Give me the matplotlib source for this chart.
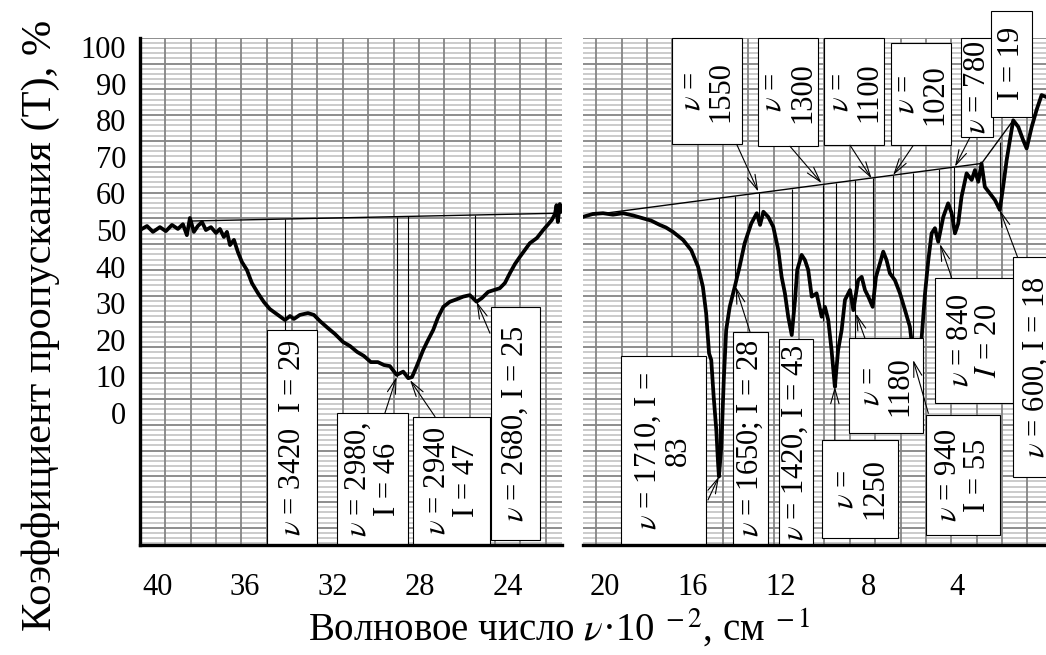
import matplotlib
matplotlib.use("Agg")
import matplotlib.pyplot as plt
from matplotlib.collections import LineCollection
from matplotlib.patches import Rectangle

plt.rcParams["font.family"] = ["Liberation Serif", "DejaVu Serif"]
plt.rcParams["mathtext.fontset"] = "stix"

# IR spectrum, wavenumber * 1e-2 (cm-1) vs transmittance, %
left_x = [40.80, 40.48, 40.21, 39.89, 39.62, 39.34, 39.07, 38.84, 38.66, 38.52,
          38.34, 38.16, 37.97, 37.79, 37.56, 37.33, 37.15, 36.97, 36.83, 36.69,
          36.51, 36.33, 36.15, 35.92, 35.69, 35.42, 35.14, 34.87, 34.55, 34.18,
          33.95, 33.77, 33.50, 33.13, 32.86, 32.58, 32.22, 31.90, 31.53, 31.21,
          30.89, 30.58, 30.26, 29.94, 29.66, 29.39, 29.08, 28.78, 28.55, 28.38,
          28.17, 27.87, 27.65, 27.41, 27.20, 26.95, 26.65, 26.33, 26.04, 25.74,
          25.43, 25.19, 24.90, 24.37, 24.14, 23.91, 23.68, 23.45, 23.00, 22.68,
          22.39, 22.00, 21.85, 21.78, 21.72, 21.63, 21.58]
left_t = [50.0, 51.1, 49.5, 50.8, 49.7, 51.4, 50.3, 51.6, 48.6, 53.3,
          49.5, 51.1, 52.2, 50.0, 50.8, 49.2, 50.3, 48.1, 49.5, 45.9,
          47.3, 44.0, 41.3, 39.1, 35.5, 32.8, 30.3, 28.4, 27.0, 25.4,
          26.5, 25.7, 26.8, 27.3, 26.8, 25.1, 23.2, 21.6, 19.4, 18.3,
          16.7, 15.6, 13.9, 13.9, 13.1, 12.8, 10.4, 11.3, 9.5, 9.8,
          12.7, 17.2, 19.9, 22.7, 26.0, 29.0, 30.4, 31.1, 31.8, 32.2,
          30.4, 31.4, 33.1, 34.1, 35.5, 38.2, 40.7, 42.7, 46.4, 47.8,
          50.0, 52.7, 54.4, 56.8, 52.2, 57.1, 55.0]

right_x = [21.00, 20.55, 20.09, 19.64, 19.18, 18.73, 18.27, 17.91, 17.51, 17.23,
           16.91, 16.45, 16.08, 15.77, 15.55, 15.40, 15.27, 15.17, 15.06, 14.94,
           14.86, 14.82, 14.71, 14.60, 14.49, 14.33, 14.10, 13.88, 13.65, 13.35,
           13.10, 12.95, 12.80, 12.58, 12.35, 12.12, 11.97, 11.82, 11.67, 11.51,
           11.36, 11.26, 11.06, 10.91, 10.76, 10.60, 10.38, 10.15, 10.00, 9.85,
           9.70, 9.55, 9.40, 9.24, 9.09, 8.86, 8.71, 8.49, 8.33, 8.18,
           8.03, 7.83, 7.68, 7.50, 7.35, 7.20, 7.05, 6.82, 6.59, 6.36,
           6.14, 6.05, 5.91, 5.73, 5.60, 5.45, 5.30, 5.15, 5.00, 4.85,
           4.62, 4.40, 4.24, 4.09, 3.94, 3.79, 3.56, 3.33, 3.18, 3.03,
           2.88, 2.73, 2.50, 2.27, 2.05, 1.90, 1.74, 1.59, 1.44, 1.21,
           0.99, 0.83, 0.60, 0.38, 0.15, -0.05]
right_t = [53.6, 54.4, 54.6, 54.2, 54.6, 54.0, 53.2, 52.6, 51.4, 50.7,
           49.5, 47.3, 44.5, 40.0, 34.5, 27.2, 16.3, 14.5, 4.5, -4.6,
           -13.7, -17.4, -9.2, 9.0, 22.7, 29.0, 34.5, 40.0, 46.4, 51.8,
           54.6, 51.4, 55.0, 53.6, 50.9, 44.5, 37.2, 32.7, 26.3, 21.3,
           30.9, 39.1, 43.2, 41.8, 39.1, 31.8, 32.7, 26.3, 29.0, 25.4,
           17.2, 7.2, 17.2, 22.7, 30.9, 33.6, 28.1, 36.3, 37.2, 33.6,
           31.8, 29.0, 37.2, 40.9, 44.1, 41.8, 38.2, 36.3, 32.7, 28.1,
           23.6, 19.0, 11.7, 14.5, 20.8, 32.7, 41.8, 49.1, 50.5, 46.8,
           53.6, 57.3, 54.6, 49.1, 51.8, 59.1, 65.5, 63.7, 66.4, 63.2,
           68.2, 61.8, 60.0, 58.2, 55.5, 61.8, 69.1, 74.6, 80.0, 78.2,
           74.6, 72.3, 78.2, 82.8, 86.9, 86.4]

# baselines and drop lines to the bands
left_base_x = [38.52, 21.70]
left_base_t = [52.46, 54.60]
right_base_x = [21.00, 2.88, 1.44]
right_base_t = [53.80, 68.20, 80.00]

left_drop_x = [34.18, 29.08, 28.55, 25.50]
left_drop_top = [53.00, 53.67, 53.73, 54.12]
left_drop_bot = [22.7, 9.9, 9.5, 30.4]

right_drop_x = [14.80, 14.10, 12.98, 11.51, 10.11, 9.52, 8.64, 7.82, 6.91, 6.00, 4.82, 4.12, 2.05]
right_drop_top = [58.73, 59.28, 60.17, 61.34, 62.45, 62.92, 63.62, 64.27, 64.99, 65.72, 66.66, 67.21, 74.0]
right_drop_bot = [-17.4, 34.5, 51.8, 21.3, 25.0, 7.2, 20.4, 29.0, 36.3, 20.4, 46.8, 49.1, 55.5]

# band labels: text, x from, x to, T from, T to
left_labels = [
    (r"$\nu$ = 3420  I = 29", 35.02, 32.74, -36.1, 22.7),
    (r"$\nu$ = 2980," "\nI = 46", 31.82, 28.55, -36.1, 0.0),
    (r"$\nu$ = 2940" "\nI = 47", 28.32, 24.82, -36.1, -1.0),
    (r"$\nu$ = 2680, I = 25", 24.78, 22.54, -34.7, 28.9),
]
right_labels = [
    (r"$\nu$ =" "\n1550", 16.97, 13.79, 73.4, 102.5),
    (r"$\nu$ =" "\n1300", 13.06, 10.30, 72.9, 102.5),
    (r"$\nu$ =" "\n1100", 10.05, 7.30, 73.2, 102.4),
    (r"$\nu$ =" "\n1020", 7.01, 4.27, 73.2, 101.0),
    (r"$\nu$ = 780", 3.83, 2.35, 75.3, 102.5),
    (r"I = 19", 2.47, 0.58, 81.0, 109.9),
    (r"$\nu$ = 1710, I =" "\n83", 19.29, 15.41, -36.1, 15.6),
    (r"$\nu$ = 1650; I = 28", 14.17, 12.58, -36.1, 22.2),
    (r"$\nu$ = 1420, I = 43", 12.09, 10.56, -36.1, 20.1),
    (r"$\nu$ =" "\n1250", 10.15, 6.67, -34.2, -7.4),
    (r"$\nu$ =" "\n1180", 8.91, 5.56, -5.5, 20.4),
    (r"$\nu$ = 940" "\nI = 55", 5.42, 2.05, -33.5, -0.5),
    (r"$\nu$ = 840" "\n$I$ = 20", 5.00, 1.44, 2.6, 37.0),
    (r"$\nu$ = 600, I = 18", 1.44, -0.68, -17.4, 42.7),
]

# arrows: tail x, tail T, tip x, tip T
left_arrows = [(29.62, -0.1, 29.08, 9.9), (27.33, -1.0, 28.47, 9.0), (24.82, 21.8, 25.43, 30.4)]
right_arrows = [(14.01, 73.4, 13.03, 60.5), (11.59, 72.9, 10.15, 62.8), (8.86, 73.2, 7.88, 64.1),
                (5.99, 73.1, 6.90, 65.0), (3.41, 75.3, 4.09, 67.3), (15.32, -23.8, 14.82, -17.4),
                (13.41, 22.2, 14.06, 34.5), (9.55, -7.4, 9.55, 7.2), (8.18, 20.4, 8.59, 27.2),
                (5.30, -0.1, 5.99, 14.5), (4.24, 37.0, 4.77, 46.2), (1.25, 42.7, 2.05, 55.5)]

left_ticks = [40, 36, 32, 28, 24]
right_ticks = [20, 16, 12, 8, 4]
t_ticks = list(range(0, 101, 10))

W, H = 1046, 655
TOP, BOT = 38, 545
fig = plt.figure(figsize=(W / 100, H / 100), dpi=100)
axL = fig.add_axes([140 / W, 1 - BOT / H, (562 - 140) / W, (BOT - TOP) / H])
axR = fig.add_axes([583 / W, 1 - BOT / H, (1046 - 583) / W, (BOT - TOP) / H])


def paper_grid(ax, lpx, rpx):
    # graph paper behind the plot, continuous over both panels
    major, minor = [], []
    w, h = rpx - lpx, BOT - TOP
    for k in range(45):
        px = 140 + k * 25.35
        if lpx <= px <= rpx:
            fx = (px - lpx) / w
            major.append([(fx, 0), (fx, 1)])
    for k in range(120):
        py = 37.7 + k * 25.8 / 5
        if py > BOT:
            break
        fy = (BOT - py) / h
        (major if k % 5 == 0 else minor).append([(0, fy), (1, fy)])
    ax.add_collection(LineCollection(minor, colors="#bdbdbd", linewidths=1.1,
                                     transform=ax.transAxes, zorder=0), autolim=False)
    ax.add_collection(LineCollection(major, colors="#858585", linewidths=1.3,
                                     transform=ax.transAxes, zorder=0.5), autolim=False)


def draw_panel(ax, x, t, bx, bt, dx, dtop, dbot, labels, arrows):
    ax.plot(x, t, color="black", lw=2.7, zorder=3, solid_joinstyle="round")
    ax.plot(bx, bt, color="black", lw=1.0, zorder=2)
    ax.vlines(dx, dbot, dtop, colors="black", lw=0.8, zorder=2)
    for txt, x0, x1, y0, y1 in labels:
        ax.add_patch(Rectangle((min(x0, x1), y0), abs(x1 - x0), y1 - y0, facecolor="white",
                               edgecolor="black", lw=0.8, zorder=5, clip_on=False))
        ax.text((x0 + x1) / 2, (y0 + y1) / 2, txt, rotation=90, ha="center", va="center",
                multialignment="center", fontsize=22, linespacing=1.0, zorder=6, clip_on=False)
    for x0, y0, x1, y1 in arrows:
        ax.annotate("", xy=(x1, y1), xytext=(x0, y0), annotation_clip=False, zorder=7,
                    arrowprops=dict(arrowstyle="->,head_length=0.9,head_width=0.25",
                                    lw=0.8, color="black", shrinkA=0, shrinkB=0,
                                    mutation_scale=12))


paper_grid(axL, 140, 562)
paper_grid(axR, 583, 1046)
draw_panel(axL, left_x, left_t, left_base_x, left_base_t,
           left_drop_x, left_drop_top, left_drop_bot, left_labels, left_arrows)
draw_panel(axR, right_x, right_t, right_base_x, right_base_t,
           right_drop_x, right_drop_top, right_drop_bot, right_labels, right_arrows)

for ax, lim, ticks in [(axL, (40.80, 21.53), left_ticks), (axR, (21.0, -0.05), right_ticks)]:
    ax.set_xlim(*lim)
    ax.set_ylim(-36.1, 102.5)
    ax.set_xticks(ticks)
    ax.tick_params(axis="x", length=0, labelsize=22, pad=20)
    for s in ["top", "right"]:
        ax.spines[s].set_visible(False)
    ax.spines["bottom"].set_linewidth(2.4)
    ax.spines["bottom"].set_zorder(8)

axL.set_yticks(t_ticks)
axL.tick_params(axis="y", length=0, labelsize=22, pad=10)
axL.spines["left"].set_linewidth(2.4)
axL.spines["left"].set_zorder(8)
axR.spines["left"].set_visible(False)
axR.set_yticks([])

fig.text(0.535, 0.040, "Волновое число $\\nu$·10$^{\\ -2}$, см$^{\\ -1}$",
         ha="center", va="center", fontsize=28)
fig.text(0.039, 0.503, "Коэффициент пропускания (T), %", rotation=90,
         ha="center", va="center", fontsize=30.5)

fig.savefig("out.png", dpi=100)
